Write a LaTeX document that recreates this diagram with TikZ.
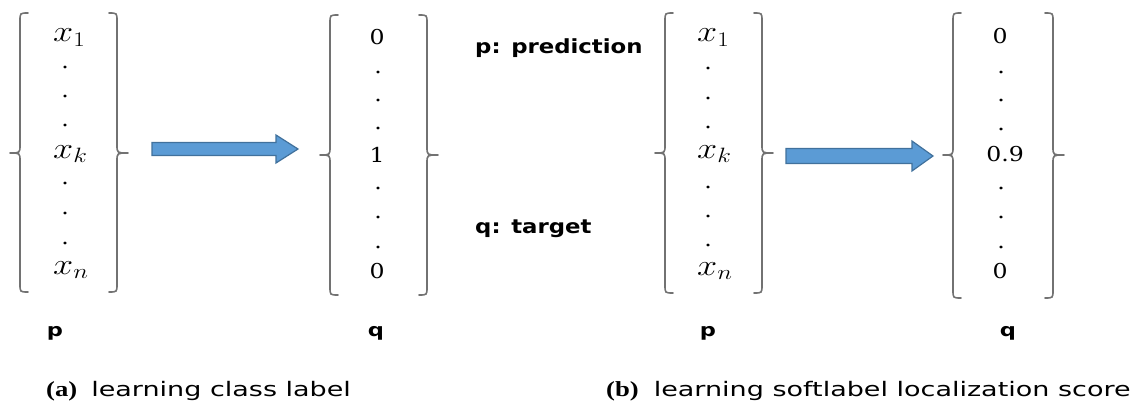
\documentclass[tikz,border=0pt]{standalone}
\usepackage{graphicx}
\usepackage{fontspec}
\usetikzlibrary{shapes.geometric}
\setsansfont{DejaVu Sans}
\newfontfamily\capfont{Liberation Serif}
\newfontfamily\digfont{DejaVu Serif}
\definecolor{arrfill}{HTML}{5B9BD5}
\definecolor{arrline}{HTML}{41719C}
\definecolor{brgray}{HTML}{727272}
\newcommand\mth[1]{\scalebox{1.45}[1.2]{$#1$}}
\newcommand\num[1]{\scalebox{1.15}[1]{#1}}
\newcommand\brL[5]{% x, top, bottom, tipx, midy
  \draw[bracepath] (#1+8,#2) .. controls (#1,#2) .. (#1,#2+8) -- (#1,#5-8)
    .. controls (#1,#5) .. (#4,#5) .. controls (#1,#5) .. (#1,#5+8)
    -- (#1,#3-8) .. controls (#1,#3) .. (#1+8,#3);}
\newcommand\brR[5]{%
  \draw[bracepath] (#1-8,#2) .. controls (#1,#2) .. (#1,#2+8) -- (#1,#5-8)
    .. controls (#1,#5) .. (#4,#5) .. controls (#1,#5) .. (#1,#5+8)
    -- (#1,#3-8) .. controls (#1,#3) .. (#1-8,#3);}
\newcommand\blockarr[7]{% startx, endx, headx, midy, shafthalf, headhalf, name
  \coordinate (#7s) at (#1,#4);
  \coordinate (#7e) at (#2,#4);
  \draw[blockarrow] (#1,#4-#5) -- (#3,#4-#5) -- (#3,#4-#6) -- (#7e)
    -- (#3,#4+#6) -- (#3,#4+#5) -- (#1,#4+#5) -- cycle;}
\begin{document}
\begin{tikzpicture}[x=1pt,y=-1pt,
  bracepath/.style={draw=brgray,line width=1.6pt,line cap=round,line join=round},
  blockarrow/.style={fill=arrfill,draw=arrline,line width=1.2pt,line join=miter},
  mathent/.style={inner sep=0pt,anchor=base west,font=\fontsize{24}{24}\selectfont},
  nument/.style={inner sep=0pt,anchor=base,font=\digfont\fontsize{20.5}{20.5}\selectfont},
  dotent/.style={ellipse,fill=black,inner sep=0pt,minimum width=3.6pt,minimum height=3.2pt},
  vlabel/.style={inner sep=0pt,anchor=base,font=\sffamily\bfseries\fontsize{18}{18}\selectfont},
  legend/.style={inner sep=0pt,anchor=base west,font=\sffamily\bfseries\fontsize{19.5}{19.5}\selectfont},
  caption/.style={inner sep=0pt,anchor=base west,font=\sffamily\fontsize{20}{20}\selectfont}]
\useasboundingbox (0,0) rectangle (1145,404);

% ---------- panel (a): p ----------
\brL{20}{13}{292}{10}{153}
\brR{117}{13}{292}{128}{153}
\node[mathent] (ap1) at (53,42) {\mth{x_1}};
\node[dotent] (apd1) at (65,67) {};
\node[dotent] (apd2) at (65,96) {};
\node[dotent] (apd3) at (65,125) {};
\node[mathent] (apk) at (53,158) {\mth{x_k}};
\node[dotent] (apd4) at (65,183) {};
\node[dotent] (apd5) at (65,213) {};
\node[dotent] (apd6) at (65,243) {};
\node[mathent] (apn) at (53,274) {\mth{x_n}};

% arrow (a)
\blockarr{152}{298}{276}{149}{6.5}{14}{arra}

% ---------- panel (a): q ----------
\brL{330}{15}{295}{320}{155}
\brR{427}{15}{295}{438}{155}
\node[nument] (aq1) at (377,45) {\num{0}};
\node[dotent] (aqd1) at (378,72) {};
\node[dotent] (aqd2) at (378,100) {};
\node[dotent] (aqd3) at (378,128) {};
\node[nument] (aqk) at (377,162) {\num{1}};
\node[dotent] (aqd4) at (378,188) {};
\node[dotent] (aqd5) at (378,217) {};
\node[dotent] (aqd6) at (378,247) {};
\node[nument] (aqn) at (377,278) {\num{0}};

\node[vlabel] (apl) at (55,336) {\scalebox{1.25}[1]{p}};
\node[vlabel] (aql) at (376,336) {\scalebox{1.25}[1]{q}};

% legend
\node[legend] (legp) at (475,53) {\scalebox{1.17}[1]{p: prediction}};
\node[legend] (legq) at (475,233) {\scalebox{1.17}[1]{q: target}};

% ---------- panel (b): p ----------
\brL{665}{13}{293}{655}{153}
\brR{762}{13}{293}{773}{153}
\node[mathent] (bp1) at (697,42) {\mth{x_1}};
\node[dotent] (bpd1) at (708,68) {};
\node[dotent] (bpd2) at (708,98) {};
\node[dotent] (bpd3) at (708,127) {};
\node[mathent] (bpk) at (697,158) {\mth{x_k}};
\node[dotent] (bpd4) at (708,187) {};
\node[dotent] (bpd5) at (708,216) {};
\node[dotent] (bpd6) at (708,245) {};
\node[mathent] (bpn) at (697,275) {\mth{x_n}};

% arrow (b)
\blockarr{786}{933}{912}{156}{7.5}{15}{arrb}

% ---------- panel (b): q ----------
\brL{953}{13}{298}{943}{155}
\brR{1053}{13}{298}{1064}{155}
\node[nument] (bq1) at (1000,44) {\num{0}};
\node[dotent] (bqd1) at (1001,72) {};
\node[dotent] (bqd2) at (1001,100) {};
\node[dotent] (bqd3) at (1001,129) {};
\node[nument] (bqk) at (1005,161) {\num{0.9}};
\node[dotent] (bqd4) at (1001,188) {};
\node[dotent] (bqd5) at (1001,217) {};
\node[dotent] (bqd6) at (1001,247) {};
\node[nument] (bqn) at (1000,278) {\num{0}};

\node[vlabel] (bpl) at (708,336) {\scalebox{1.25}[1]{p}};
\node[vlabel] (bql) at (1008,336) {\scalebox{1.25}[1]{q}};

% captions
\node[caption] (capa) at (46,396) {\scalebox{1.24}[1]{\capfont\bfseries\fontsize{21.5}{21.5}\selectfont (a)}\hspace{14pt}\scalebox{1.35}[1]{learning class label}};
\node[caption] (capb) at (606,396) {\scalebox{1.24}[1]{\capfont\bfseries\fontsize{21.5}{21.5}\selectfont (b)}\hspace{15pt}\scalebox{1.35}[1]{learning softlabel localization score}};
\end{tikzpicture}
\end{document}
